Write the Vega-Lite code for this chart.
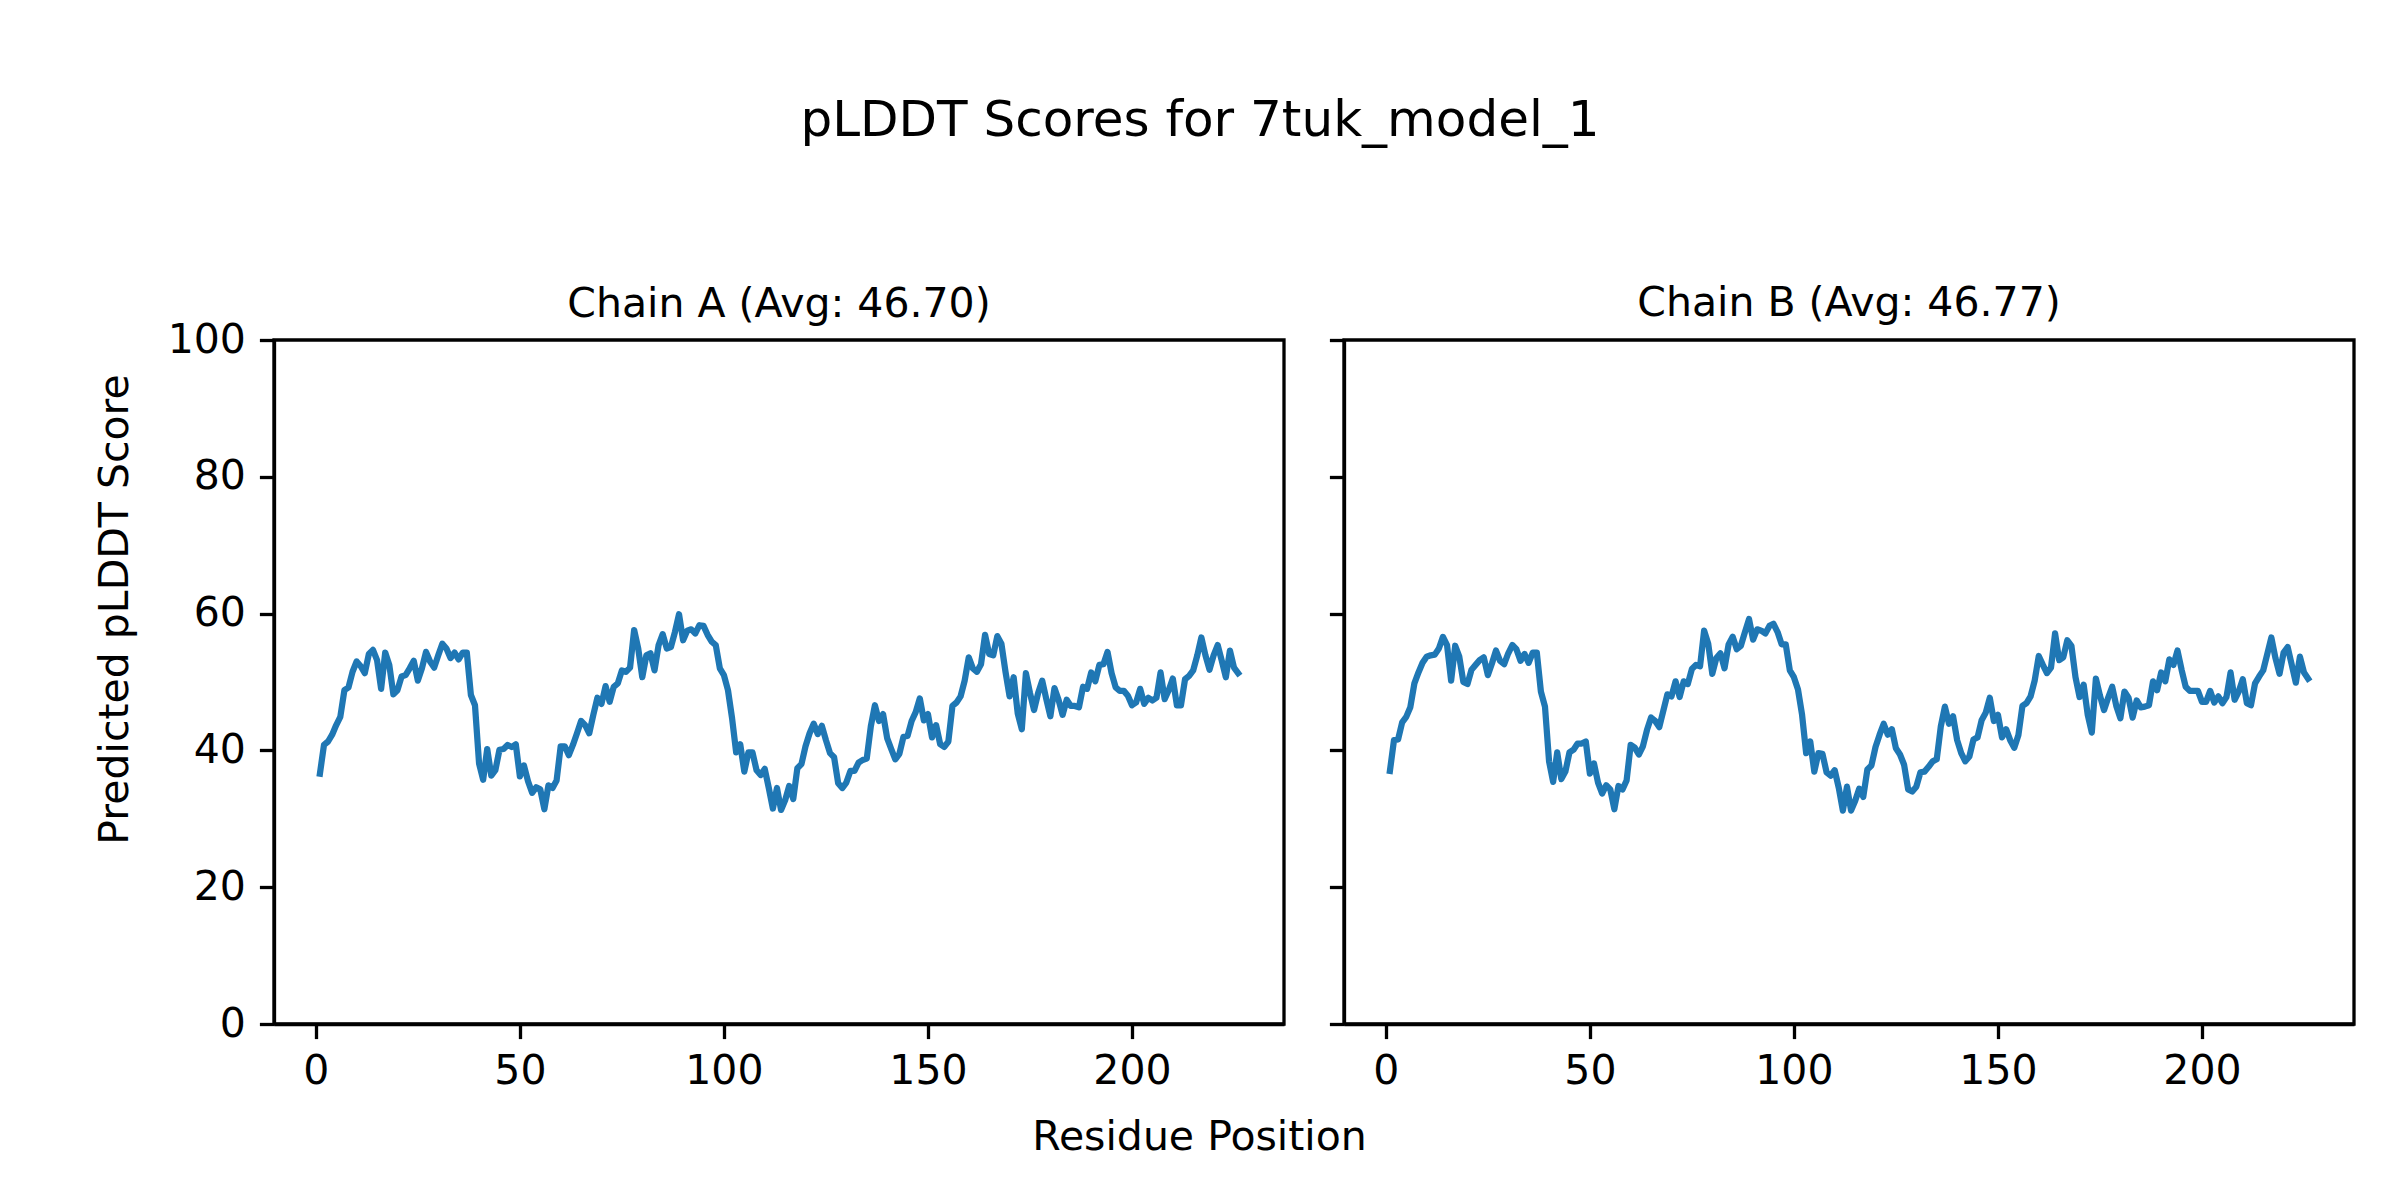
{
"$schema": "https://vega.github.io/schema/vega-lite/v6.json",
"background": "white",
"autosize": {"type": "pad"},
"padding": {"left": 92, "top": 96, "right": 0, "bottom": 0},
"title": {"text": "pLDDT Scores for 7tuk_model_1", "fontSize": 50, "font": "DejaVu Sans", "fontWeight": "normal", "color": "black", "anchor": "middle", "baseline": "alphabetic", "offset": 95.5, "dx": -24},
"config": {
"font": "DejaVu Sans",
"view": {"stroke": "black", "strokeWidth": 3.3},
"axis": {"domainColor": "black", "domainWidth": 3.3, "tickColor": "black", "tickWidth": 3.3, "tickSize": 14.6, "labelFontSize": 41, "labelColor": "black", "labelFont": "DejaVu Sans", "grid": false, "titleFontSize": 41, "titleFont": "DejaVu Sans", "titleFontWeight": "normal", "titleColor": "black", "labelFlush": false, "labelOverlap": false},
"axisX": {"labelPadding": 13},
"axisY": {"labelPadding": 14}
},
"spacing": 60,
"bounds": "flush",
"datasets": {
"chainA": [
{"residue":1,"plddt":36.6},{"residue":2,"plddt":40.8},{"residue":3,"plddt":41.3},{"residue":4,"plddt":42.3},{"residue":5,"plddt":43.7},{"residue":6,"plddt":44.9},{"residue":7,"plddt":48.8},{"residue":8,"plddt":49.2},{"residue":9,"plddt":51.5},{"residue":10,"plddt":53.0},
{"residue":11,"plddt":52.3},{"residue":12,"plddt":51.3},{"residue":13,"plddt":54.1},{"residue":14,"plddt":54.7},{"residue":15,"plddt":53.2},{"residue":16,"plddt":49.0},{"residue":17,"plddt":54.3},{"residue":18,"plddt":52.5},{"residue":19,"plddt":48.2},{"residue":20,"plddt":48.8},
{"residue":21,"plddt":50.8},{"residue":22,"plddt":51.0},{"residue":23,"plddt":52.0},{"residue":24,"plddt":53.1},{"residue":25,"plddt":50.2},{"residue":26,"plddt":52.0},{"residue":27,"plddt":54.4},{"residue":28,"plddt":53.0},{"residue":29,"plddt":52.1},{"residue":30,"plddt":53.9},
{"residue":31,"plddt":55.6},{"residue":32,"plddt":54.9},{"residue":33,"plddt":53.5},{"residue":34,"plddt":54.3},{"residue":35,"plddt":53.3},{"residue":36,"plddt":54.3},{"residue":37,"plddt":54.3},{"residue":38,"plddt":48.1},{"residue":39,"plddt":46.6},{"residue":40,"plddt":38.1},
{"residue":41,"plddt":35.7},{"residue":42,"plddt":40.2},{"residue":43,"plddt":36.3},{"residue":44,"plddt":37.1},{"residue":45,"plddt":40.1},{"residue":46,"plddt":40.2},{"residue":47,"plddt":40.8},{"residue":48,"plddt":40.5},{"residue":49,"plddt":40.9},{"residue":50,"plddt":36.2},
{"residue":51,"plddt":37.8},{"residue":52,"plddt":35.5},{"residue":53,"plddt":33.8},{"residue":54,"plddt":34.6},{"residue":55,"plddt":34.3},{"residue":56,"plddt":31.4},{"residue":57,"plddt":34.9},{"residue":58,"plddt":34.5},{"residue":59,"plddt":35.6},{"residue":60,"plddt":40.6},
{"residue":61,"plddt":40.6},{"residue":62,"plddt":39.3},{"residue":63,"plddt":40.8},{"residue":64,"plddt":42.5},{"residue":65,"plddt":44.3},{"residue":66,"plddt":43.7},{"residue":67,"plddt":42.5},{"residue":68,"plddt":45.2},{"residue":69,"plddt":47.7},{"residue":70,"plddt":46.8},
{"residue":71,"plddt":49.4},{"residue":72,"plddt":47.1},{"residue":73,"plddt":49.3},{"residue":74,"plddt":49.8},{"residue":75,"plddt":51.7},{"residue":76,"plddt":51.5},{"residue":77,"plddt":52.1},{"residue":78,"plddt":57.6},{"residue":79,"plddt":54.9},{"residue":80,"plddt":50.7},
{"residue":81,"plddt":53.9},{"residue":82,"plddt":54.2},{"residue":83,"plddt":51.7},{"residue":84,"plddt":55.4},{"residue":85,"plddt":57.0},{"residue":86,"plddt":54.9},{"residue":87,"plddt":55.1},{"residue":88,"plddt":57.3},{"residue":89,"plddt":59.9},{"residue":90,"plddt":56.1},
{"residue":91,"plddt":57.5},{"residue":92,"plddt":57.7},{"residue":93,"plddt":57.1},{"residue":94,"plddt":58.3},{"residue":95,"plddt":58.2},{"residue":96,"plddt":56.9},{"residue":97,"plddt":55.9},{"residue":98,"plddt":55.4},{"residue":99,"plddt":52.0},{"residue":100,"plddt":51.0},
{"residue":101,"plddt":48.8},{"residue":102,"plddt":44.7},{"residue":103,"plddt":39.7},{"residue":104,"plddt":40.9},{"residue":105,"plddt":36.9},{"residue":106,"plddt":39.7},{"residue":107,"plddt":39.7},{"residue":108,"plddt":37.1},{"residue":109,"plddt":36.4},{"residue":110,"plddt":37.3},
{"residue":111,"plddt":34.5},{"residue":112,"plddt":31.5},{"residue":113,"plddt":34.5},{"residue":114,"plddt":31.3},{"residue":115,"plddt":32.7},{"residue":116,"plddt":34.8},{"residue":117,"plddt":32.9},{"residue":118,"plddt":37.4},{"residue":119,"plddt":38.0},{"residue":120,"plddt":40.6},
{"residue":121,"plddt":42.5},{"residue":122,"plddt":43.9},{"residue":123,"plddt":42.4},{"residue":124,"plddt":43.6},{"residue":125,"plddt":41.5},{"residue":126,"plddt":39.6},{"residue":127,"plddt":39.0},{"residue":128,"plddt":35.2},{"residue":129,"plddt":34.5},{"residue":130,"plddt":35.3},
{"residue":131,"plddt":37.0},{"residue":132,"plddt":37.0},{"residue":133,"plddt":38.2},{"residue":134,"plddt":38.6},{"residue":135,"plddt":38.8},{"residue":136,"plddt":43.5},{"residue":137,"plddt":46.6},{"residue":138,"plddt":44.3},{"residue":139,"plddt":45.3},{"residue":140,"plddt":41.8},
{"residue":141,"plddt":40.2},{"residue":142,"plddt":38.7},{"residue":143,"plddt":39.5},{"residue":144,"plddt":42.0},{"residue":145,"plddt":42.1},{"residue":146,"plddt":44.3},{"residue":147,"plddt":45.6},{"residue":148,"plddt":47.6},{"residue":149,"plddt":44.4},{"residue":150,"plddt":45.3},
{"residue":151,"plddt":41.9},{"residue":152,"plddt":43.7},{"residue":153,"plddt":40.9},{"residue":154,"plddt":40.5},{"residue":155,"plddt":41.3},{"residue":156,"plddt":46.5},{"residue":157,"plddt":47.0},{"residue":158,"plddt":47.9},{"residue":159,"plddt":50.2},{"residue":160,"plddt":53.6},
{"residue":161,"plddt":52.0},{"residue":162,"plddt":51.5},{"residue":163,"plddt":52.6},{"residue":164,"plddt":56.9},{"residue":165,"plddt":54.1},{"residue":166,"plddt":53.9},{"residue":167,"plddt":56.7},{"residue":168,"plddt":55.6},{"residue":169,"plddt":51.5},{"residue":170,"plddt":47.9},
{"residue":171,"plddt":50.7},{"residue":172,"plddt":45.4},{"residue":173,"plddt":43.1},{"residue":174,"plddt":51.3},{"residue":175,"plddt":48.4},{"residue":176,"plddt":45.9},{"residue":177,"plddt":48.4},{"residue":178,"plddt":50.2},{"residue":179,"plddt":47.5},{"residue":180,"plddt":45.0},
{"residue":181,"plddt":49.1},{"residue":182,"plddt":47.4},{"residue":183,"plddt":45.2},{"residue":184,"plddt":47.4},{"residue":185,"plddt":46.5},{"residue":186,"plddt":46.5},{"residue":187,"plddt":46.3},{"residue":188,"plddt":49.3},{"residue":189,"plddt":49.0},{"residue":190,"plddt":51.4},
{"residue":191,"plddt":50.1},{"residue":192,"plddt":52.5},{"residue":193,"plddt":52.6},{"residue":194,"plddt":54.4},{"residue":195,"plddt":51.3},{"residue":196,"plddt":49.2},{"residue":197,"plddt":48.7},{"residue":198,"plddt":48.7},{"residue":199,"plddt":48.0},{"residue":200,"plddt":46.6},
{"residue":201,"plddt":47.0},{"residue":202,"plddt":49.0},{"residue":203,"plddt":46.8},{"residue":204,"plddt":47.7},{"residue":205,"plddt":47.3},{"residue":206,"plddt":47.7},{"residue":207,"plddt":51.4},{"residue":208,"plddt":47.5},{"residue":209,"plddt":48.8},{"residue":210,"plddt":50.5},
{"residue":211,"plddt":46.6},{"residue":212,"plddt":46.6},{"residue":213,"plddt":50.4},{"residue":214,"plddt":50.9},{"residue":215,"plddt":51.7},{"residue":216,"plddt":53.9},{"residue":217,"plddt":56.5},{"residue":218,"plddt":53.9},{"residue":219,"plddt":51.8},{"residue":220,"plddt":53.9},
{"residue":221,"plddt":55.4},{"residue":222,"plddt":53.1},{"residue":223,"plddt":50.7},{"residue":224,"plddt":54.6},{"residue":225,"plddt":52.1},{"residue":226,"plddt":51.3}
],
"chainB": [
{"residue":1,"plddt":37.0},{"residue":2,"plddt":41.5},{"residue":3,"plddt":41.6},{"residue":4,"plddt":44.1},{"residue":5,"plddt":44.9},{"residue":6,"plddt":46.3},{"residue":7,"plddt":49.8},{"residue":8,"plddt":51.4},{"residue":9,"plddt":52.8},{"residue":10,"plddt":53.7},
{"residue":11,"plddt":53.9},{"residue":12,"plddt":54.0},{"residue":13,"plddt":54.9},{"residue":14,"plddt":56.6},{"residue":15,"plddt":55.4},{"residue":16,"plddt":50.2},{"residue":17,"plddt":55.3},{"residue":18,"plddt":53.7},{"residue":19,"plddt":50.0},{"residue":20,"plddt":49.7},
{"residue":21,"plddt":51.8},{"residue":22,"plddt":52.5},{"residue":23,"plddt":53.2},{"residue":24,"plddt":53.6},{"residue":25,"plddt":51.0},{"residue":26,"plddt":52.7},{"residue":27,"plddt":54.6},{"residue":28,"plddt":53.1},{"residue":29,"plddt":52.6},{"residue":30,"plddt":54.2},
{"residue":31,"plddt":55.4},{"residue":32,"plddt":54.8},{"residue":33,"plddt":53.1},{"residue":34,"plddt":54.1},{"residue":35,"plddt":52.8},{"residue":36,"plddt":54.3},{"residue":37,"plddt":54.3},{"residue":38,"plddt":48.6},{"residue":39,"plddt":46.4},{"residue":40,"plddt":38.4},
{"residue":41,"plddt":35.4},{"residue":42,"plddt":39.7},{"residue":43,"plddt":35.8},{"residue":44,"plddt":36.9},{"residue":45,"plddt":39.7},{"residue":46,"plddt":40.1},{"residue":47,"plddt":41.0},{"residue":48,"plddt":41.0},{"residue":49,"plddt":41.3},{"residue":50,"plddt":36.6},
{"residue":51,"plddt":38.1},{"residue":52,"plddt":35.3},{"residue":53,"plddt":33.7},{"residue":54,"plddt":34.9},{"residue":55,"plddt":34.3},{"residue":56,"plddt":31.4},{"residue":57,"plddt":34.8},{"residue":58,"plddt":34.3},{"residue":59,"plddt":35.6},{"residue":60,"plddt":40.8},
{"residue":61,"plddt":40.4},{"residue":62,"plddt":39.4},{"residue":63,"plddt":40.6},{"residue":64,"plddt":43.0},{"residue":65,"plddt":44.8},{"residue":66,"plddt":44.3},{"residue":67,"plddt":43.4},{"residue":68,"plddt":45.8},{"residue":69,"plddt":48.2},{"residue":70,"plddt":47.9},
{"residue":71,"plddt":50.1},{"residue":72,"plddt":47.8},{"residue":73,"plddt":50.1},{"residue":74,"plddt":49.7},{"residue":75,"plddt":51.9},{"residue":76,"plddt":52.5},{"residue":77,"plddt":52.3},{"residue":78,"plddt":57.5},{"residue":79,"plddt":55.6},{"residue":80,"plddt":51.2},
{"residue":81,"plddt":53.5},{"residue":82,"plddt":54.2},{"residue":83,"plddt":52.0},{"residue":84,"plddt":55.5},{"residue":85,"plddt":56.6},{"residue":86,"plddt":54.8},{"residue":87,"plddt":55.3},{"residue":88,"plddt":57.3},{"residue":89,"plddt":59.2},{"residue":90,"plddt":56.2},
{"residue":91,"plddt":57.7},{"residue":92,"plddt":57.5},{"residue":93,"plddt":57.1},{"residue":94,"plddt":58.2},{"residue":95,"plddt":58.5},{"residue":96,"plddt":57.3},{"residue":97,"plddt":55.5},{"residue":98,"plddt":55.5},{"residue":99,"plddt":51.7},{"residue":100,"plddt":50.7},
{"residue":101,"plddt":48.9},{"residue":102,"plddt":45.2},{"residue":103,"plddt":39.6},{"residue":104,"plddt":41.3},{"residue":105,"plddt":36.9},{"residue":106,"plddt":39.6},{"residue":107,"plddt":39.5},{"residue":108,"plddt":36.8},{"residue":109,"plddt":36.3},{"residue":110,"plddt":37.1},
{"residue":111,"plddt":34.5},{"residue":112,"plddt":31.2},{"residue":113,"plddt":34.7},{"residue":114,"plddt":31.2},{"residue":115,"plddt":32.6},{"residue":116,"plddt":34.4},{"residue":117,"plddt":33.2},{"residue":118,"plddt":37.2},{"residue":119,"plddt":37.8},{"residue":120,"plddt":40.5},
{"residue":121,"plddt":42.3},{"residue":122,"plddt":43.9},{"residue":123,"plddt":42.3},{"residue":124,"plddt":43.1},{"residue":125,"plddt":40.3},{"residue":126,"plddt":39.4},{"residue":127,"plddt":37.9},{"residue":128,"plddt":34.3},{"residue":129,"plddt":34.0},{"residue":130,"plddt":34.7},
{"residue":131,"plddt":36.8},{"residue":132,"plddt":36.9},{"residue":133,"plddt":37.6},{"residue":134,"plddt":38.4},{"residue":135,"plddt":38.7},{"residue":136,"plddt":43.5},{"residue":137,"plddt":46.4},{"residue":138,"plddt":43.9},{"residue":139,"plddt":45.0},{"residue":140,"plddt":41.5},
{"residue":141,"plddt":39.6},{"residue":142,"plddt":38.4},{"residue":143,"plddt":39.1},{"residue":144,"plddt":41.6},{"residue":145,"plddt":41.9},{"residue":146,"plddt":44.4},{"residue":147,"plddt":45.5},{"residue":148,"plddt":47.7},{"residue":149,"plddt":44.3},{"residue":150,"plddt":45.2},
{"residue":151,"plddt":41.9},{"residue":152,"plddt":43.1},{"residue":153,"plddt":41.5},{"residue":154,"plddt":40.4},{"residue":155,"plddt":42.2},{"residue":156,"plddt":46.5},{"residue":157,"plddt":46.9},{"residue":158,"plddt":47.9},{"residue":159,"plddt":50.2},{"residue":160,"plddt":53.8},
{"residue":161,"plddt":52.5},{"residue":162,"plddt":51.3},{"residue":163,"plddt":52.1},{"residue":164,"plddt":57.1},{"residue":165,"plddt":53.2},{"residue":166,"plddt":53.6},{"residue":167,"plddt":56.1},{"residue":168,"plddt":55.3},{"residue":169,"plddt":50.7},{"residue":170,"plddt":47.8},
{"residue":171,"plddt":49.6},{"residue":172,"plddt":45.2},{"residue":173,"plddt":42.6},{"residue":174,"plddt":50.5},{"residue":175,"plddt":48.0},{"residue":176,"plddt":45.9},{"residue":177,"plddt":47.7},{"residue":178,"plddt":49.3},{"residue":179,"plddt":46.5},{"residue":180,"plddt":44.7},
{"residue":181,"plddt":48.6},{"residue":182,"plddt":47.7},{"residue":183,"plddt":44.8},{"residue":184,"plddt":47.3},{"residue":185,"plddt":46.3},{"residue":186,"plddt":46.4},{"residue":187,"plddt":46.6},{"residue":188,"plddt":50.1},{"residue":189,"plddt":48.8},{"residue":190,"plddt":51.4},
{"residue":191,"plddt":50.1},{"residue":192,"plddt":53.3},{"residue":193,"plddt":52.5},{"residue":194,"plddt":54.6},{"residue":195,"plddt":51.8},{"residue":196,"plddt":49.3},{"residue":197,"plddt":48.7},{"residue":198,"plddt":48.7},{"residue":199,"plddt":48.7},{"residue":200,"plddt":47.1},
{"residue":201,"plddt":47.1},{"residue":202,"plddt":48.7},{"residue":203,"plddt":47.0},{"residue":204,"plddt":47.9},{"residue":205,"plddt":46.9},{"residue":206,"plddt":47.8},{"residue":207,"plddt":51.4},{"residue":208,"plddt":47.4},{"residue":209,"plddt":48.6},{"residue":210,"plddt":50.4},
{"residue":211,"plddt":46.9},{"residue":212,"plddt":46.6},{"residue":213,"plddt":49.8},{"residue":214,"plddt":50.8},{"residue":215,"plddt":51.7},{"residue":216,"plddt":54.1},{"residue":217,"plddt":56.5},{"residue":218,"plddt":53.5},{"residue":219,"plddt":51.2},{"residue":220,"plddt":54.3},
{"residue":221,"plddt":55.1},{"residue":222,"plddt":52.5},{"residue":223,"plddt":49.9},{"residue":224,"plddt":53.7},{"residue":225,"plddt":51.4},{"residue":226,"plddt":50.5}
]
},
"hconcat": [
{
"width": 1010, "height": 684,
"title": {"text": "Chain A (Avg: 46.70)", "fontSize": 41, "fontWeight": "normal", "color": "black", "anchor": "middle", "frame": "group", "baseline": "alphabetic", "offset": -39},
"data": {"name": "chainA"},
"mark": {"type": "line", "color": "#1f77b4", "strokeWidth": 6.25, "strokeJoin": "round", "strokeCap": "square"},
"encoding": {
"x": {"field": "residue", "type": "quantitative", "scale": {"domain": [-10.25, 237.25], "nice": false, "zero": false}, "axis": {"values": [0, 50, 100, 150, 200], "title": "Residue Position", "titleX": 925, "titleY": 113, "titleAlign": "center", "titleBaseline": "middle"}},
"y": {"field": "plddt", "type": "quantitative", "scale": {"domain": [0, 100], "nice": false, "zero": false}, "axis": {"values": [0, 20, 40, 60, 80, 100], "title": "Predicted pLDDT Score", "titleX": -159, "titleY": 269, "titleAlign": "center", "titleBaseline": "middle", "titleAngle": -90}}
}
},
{
"width": 1010, "height": 684,
"title": {"text": "Chain B (Avg: 46.77)", "fontSize": 41, "fontWeight": "normal", "color": "black", "anchor": "middle", "frame": "group", "baseline": "alphabetic", "offset": -19},
"data": {"name": "chainB"},
"mark": {"type": "line", "color": "#1f77b4", "strokeWidth": 6.25, "strokeJoin": "round", "strokeCap": "square"},
"encoding": {
"x": {"field": "residue", "type": "quantitative", "scale": {"domain": [-10.25, 237.25], "nice": false, "zero": false}, "axis": {"values": [0, 50, 100, 150, 200], "title": null}},
"y": {"field": "plddt", "type": "quantitative", "scale": {"domain": [0, 100], "nice": false, "zero": false}, "axis": {"values": [0, 20, 40, 60, 80, 100], "title": null, "labels": false}}
}
}
]
}
